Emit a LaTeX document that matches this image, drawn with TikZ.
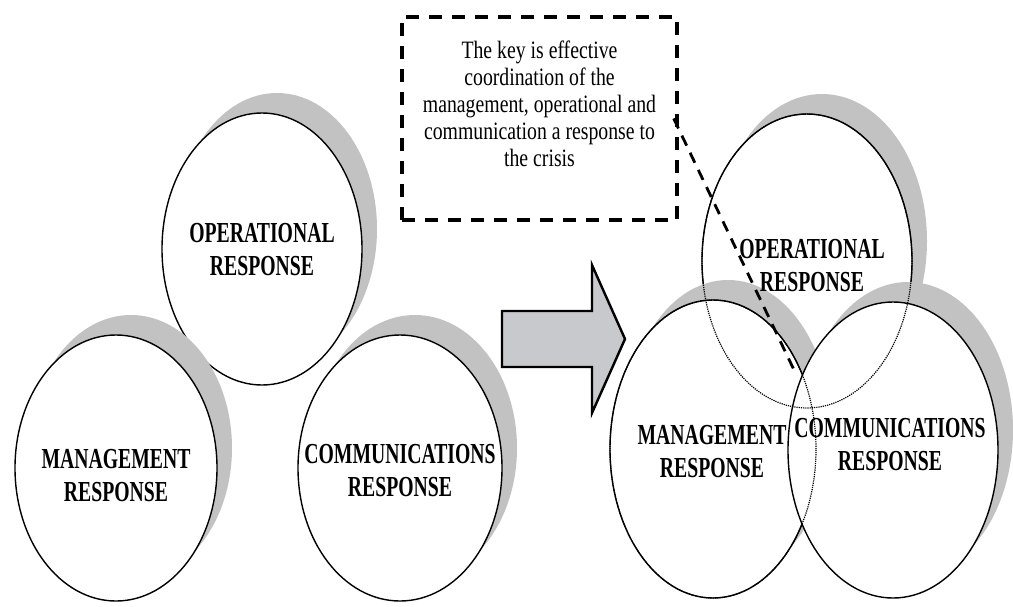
\documentclass[tikz,border=0pt]{standalone}
\usepackage{fontspec}
\setmainfont{Liberation Serif}
\newfontfamily\labfont[FakeStretch=0.68]{Liberation Serif}
\newfontfamily\notefont[FakeStretch=0.79]{Liberation Serif}
\usetikzlibrary{shapes.geometric,shadows}
\definecolor{shadowgray}{RGB}{194,194,194}
\definecolor{arrowgray}{RGB}{200,201,205}

\begin{document}
\begin{tikzpicture}[x=1pt,y=-1pt,
  resp/.style={ellipse,draw,line width=1.4pt,fill=white,inner sep=0pt,
    drop shadow={shadow xshift=15pt,shadow yshift=20pt,fill=shadowgray,opacity=1}},
  rim/.style={ellipse,draw,densely dotted,line width=1.2pt,inner sep=0pt},
  lab/.style={align=center,inner sep=0pt,font=\labfont\bfseries\fontsize{29}{33}\selectfont},
  notebox/.style={draw,line width=3.4pt,dash pattern=on 13pt off 10pt,minimum width=275pt,minimum height=203pt},
  link/.style={line width=2.8pt,dash pattern=on 11pt off 8pt}]
\useasboundingbox (0,0) rectangle (1013,606);
% before: three separate responses
\foreach \n/\x/\y/\w/\h/\dy/\t in {opL/262/249/200/272/1/{OPERATIONAL\\RESPONSE},
    mgL/116/468/202/266/8/{MANAGEMENT\\RESPONSE},
    coL/400/468/204/266/3/{COMMUNICATIONS\\RESPONSE}}
  {\node[resp,minimum width=\w pt,minimum height=\h pt] (\n) at (\x,\y) {};
   \node[lab] (\n lab) at ([yshift=-\dy pt]\n.center) {\t};}
% arrow
\draw[line width=2.4pt,fill=arrowgray,line join=miter] (502,311) -- (592,311) -- (592,265) -- (625,339)
  -- (592,413) -- (592,367) -- (502,367) -- cycle;
% after: coordinated responses
\node[resp,minimum width=210pt,minimum height=294pt] (opR) at (807,261) {};
\node[resp,minimum width=206pt,minimum height=298pt] (mgR) at (713,449) {};
\node[resp,minimum width=210pt,minimum height=296pt] (coR) at (893,450) {};
\node[rim,minimum width=206pt,minimum height=298pt] (mgRrim) at (mgR.center) {};
\node[rim,minimum width=210pt,minimum height=294pt] (opRrim) at (opR.center) {};
\node[lab] (opRlab) at (812,266) {OPERATIONAL\\RESPONSE};
\node[lab] (mgRlab) at (712,452) {MANAGEMENT\\RESPONSE};
\node[lab] (coRlab) at (890,445) {COMMUNICATIONS\\RESPONSE};
% note
\node[notebox] (note) at (539.5,118.5) {};
\node[align=center,inner sep=0pt,font=\notefont\fontsize{25}{27}\selectfont] (notetext) at (539.5,104)
  {The key is effective\\coordination of the\\management, operational and\\communication a response to\\the crisis};
\coordinate (tip) at (795,372);
\draw[link] ([xshift=-5pt]note.east) -- (tip);
\end{tikzpicture}
\end{document}
